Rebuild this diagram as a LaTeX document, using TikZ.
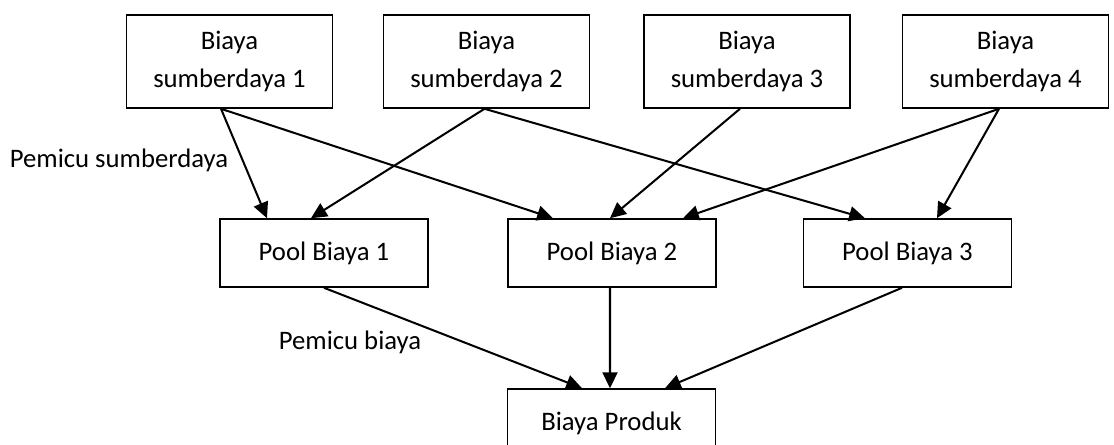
\documentclass[tikz,border=0pt]{standalone}
\usepackage{fontspec}
\setmainfont{Carlito}
\usetikzlibrary{arrows.meta}

\begin{document}
\begin{tikzpicture}[
  sumber/.style={draw, line width=0.9pt, minimum width=4.12cm, minimum height=1.86cm, align=center, inner sep=0pt},
  pool/.style={draw, line width=0.9pt, minimum width=4.16cm, minimum height=1.36cm, inner sep=0pt},
  panah/.style={line width=1.15pt, -{Triangle[length=9pt, width=8.5pt]}},
  every node/.style={font=\fontsize{15.2}{21.5}\selectfont}
]
\clip (0,0) rectangle (22.28,8.88);

% sumberdaya
\node[sumber] (b1) at (4.59, 7.65) {Biaya\\sumberdaya 1};
\node[sumber] (b2) at (9.73, 7.65) {Biaya\\sumberdaya 2};
\node[sumber] (b3) at (14.94, 7.65) {Biaya\\sumberdaya 3};
\node[sumber] (b4) at (20.11, 7.65) {Biaya\\sumberdaya 4};

% pool biaya
\node[pool] (p1) at (6.48, 3.82) {Pool Biaya 1};
\node[pool] (p2) at (12.24, 3.82) {Pool Biaya 2};
\node[pool] (p3) at (18.15, 3.82) {Pool Biaya 3};

\node[pool] (produk) at (12.23, 0.42) {Biaya Produk};

\node[] (pemicuS) at (2.38, 5.68) {Pemicu sumberdaya};
\node[] (pemicuB) at (7.0, 2.04) {Pemicu biaya};

\draw[panah] ([xshift=-0.17cm]b1.south) -- ([xshift=-1.14cm]p1.north);
\draw[panah] ([xshift=-0.17cm]b1.south) -- ([xshift=-1.18cm]p2.north);
\draw[panah] ([xshift=-0.04cm]b2.south) -- ([xshift=-0.26cm]p1.north);
\draw[panah] ([xshift=-0.04cm]b2.south) -- ([xshift=-0.85cm]p3.north);
\draw[panah] ([xshift=-0.14cm]b3.south) -- ([xshift=-0.04cm]p2.north);
\draw[panah] ([xshift=-0.13cm]b4.south) -- ([xshift=1.42cm]p2.north);
\draw[panah] ([xshift=-0.13cm]b4.south) -- ([xshift=0.59cm]p3.north);

\draw[panah] (p1.south) -- ([xshift=-0.59cm]produk.north);
\draw[panah] ([xshift=-0.04cm]p2.south) -- ([xshift=-0.03cm]produk.north);
\draw[panah] ([xshift=-0.11cm]p3.south) -- ([xshift=1.07cm]produk.north);

\end{tikzpicture}
\end{document}
